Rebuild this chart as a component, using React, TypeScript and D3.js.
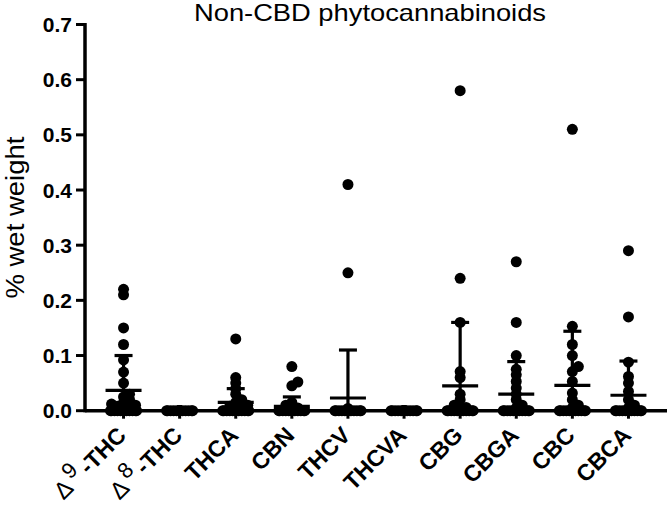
import React from "react";
import * as d3 from "d3";

const categories = ["d9THC", "d8THC", "THCA", "CBN", "THCV", "THCVA", "CBG", "CBGA", "CBC", "CBCA"];
const zeros = (n: number) => Array(n).fill(0);

const d9THC = [...zeros(11), 0.003, 0.005, 0.008, 0.01, 0.012, 0.015, 0.02, 0.025, 0.03, 0.05, 0.07, 0.092, 0.12, 0.15, 0.21, 0.22];
const d8THC = zeros(24);
const THCA = [...zeros(12), 0.003, 0.005, 0.008, 0.01, 0.015, 0.02, 0.03, 0.04, 0.05, 0.06, 0.13];
const CBN = [...zeros(14), 0.003, 0.005, 0.01, 0.015, 0.045, 0.052, 0.08];
const THCV = [...zeros(20), 0.004, 0.25, 0.41];
const THCVA = zeros(24);
const CBG = [...zeros(14), 0.003, 0.006, 0.01, 0.02, 0.03, 0.06, 0.071, 0.16, 0.24, 0.58];
const CBGA = [...zeros(13), 0.005, 0.01, 0.02, 0.03, 0.041, 0.053, 0.065, 0.075, 0.1, 0.16, 0.27];
const CBC = [...zeros(13), 0.005, 0.01, 0.02, 0.032, 0.053, 0.071, 0.08, 0.1, 0.12, 0.153, 0.51];
const CBCA = [...zeros(14), 0.005, 0.01, 0.02, 0.035, 0.05, 0.062, 0.088, 0.17, 0.29];

const groupValues = [d9THC, d8THC, THCA, CBN, THCV, THCVA, CBG, CBGA, CBC, CBCA];
const means = [0.037, 0, 0.015, 0.008, 0.023, 0, 0.045, 0.03, 0.046, 0.028];
const sds = [0.063, 0, 0.025, 0.017, 0.087, 0, 0.115, 0.059, 0.098, 0.062];
const yTicks = [0, 0.1, 0.2, 0.3, 0.4, 0.5, 0.6, 0.7];
const labels = ["9-THC", "8-THC", "THCA", "CBN", "THCV", "THCVA", "CBG", "CBGA", "CBC", "CBCA"];

const W = 668, H = 507;
const FONT = "'Liberation Sans', Arial, Helvetica, sans-serif";
const R = 5.5;

function swarm(vals: number[], y: (v: number) => number) {
  const sorted = [...vals].sort((a, b) => a - b);
  const placed: { dx: number; y: number }[] = [];
  const cands = [0, 6, -6, 12, -12, 3, -3, 9, -9, 13, -13];
  for (const v of sorted) {
    const py = y(v);
    let best = 0, bestD = -1;
    for (const c of cands) {
      let minD = Infinity;
      for (const p of placed) {
        const d = Math.hypot(p.dx - c, p.y - py);
        if (d < minD) minD = d;
      }
      if (minD >= 5) { best = c; bestD = Infinity; break; }
      if (minD > bestD) { bestD = minD; best = c; }
    }
    placed.push({ dx: best, y: py });
  }
  return placed;
}

export default function App() {
  const y = d3.scaleLinear().domain([0, 0.7]).range([410.7, 24.5]);
  const x = d3.scalePoint<string>().domain(categories).range([85, 667]).padding(0.687);
  const axisX = 85;
  const base = y(0);
  return (
    <svg width={W} height={H} style={{ position: "absolute", left: 0, top: 0, background: "#fff" }} fontFamily={FONT}>
      <text x={370} y={21} textAnchor="middle" fontSize={24} textLength={352} lengthAdjust="spacingAndGlyphs" fill="#000">Non-CBD phytocannabinoids</text>
      <text transform={`translate(24,${y(0.35)}) rotate(-90)`} textAnchor="middle" fontSize={26} textLength={162} lengthAdjust="spacingAndGlyphs" fill="#000">% wet weight</text>
      {/* y axis */}
      <line x1={axisX} x2={axisX} y1={y(0.7) - 1.5} y2={base + 1.5} stroke="#000" strokeWidth={3.5} />
      {yTicks.map((t) => (
        <g key={t}>
          <line x1={axisX - 9} x2={axisX} y1={y(t)} y2={y(t)} stroke="#000" strokeWidth={3} />
          <text x={72} y={y(t)} dy="0.36em" textAnchor="end" fontSize={21} fontWeight="bold">{d3.format(".1f")(t)}</text>
        </g>
      ))}
      {/* x axis */}
      <line x1={axisX} x2={667} y1={base} y2={base} stroke="#000" strokeWidth={3.5} />
      {categories.map((c) => {
        const cx = x(c)!;
        return <line key={c} x1={cx} x2={cx} y1={base} y2={base + 8} stroke="#000" strokeWidth={3} />;
      })}
      {/* points */}
      {categories.map((c, i) => {
        const cx = x(c)!;
        const pts = swarm(groupValues[i], y);
        return (
          <g key={c}>
            {pts.map((p, j) => (
              <circle key={j} cx={cx + p.dx} cy={p.y} r={R} fill="#000" />
            ))}
          </g>
        );
      })}
      {/* mean and SD */}
      {categories.map((c, i) => {
        const cx = x(c)!;
        const m = means[i], s = sds[i];
        if (s === 0) return null;
        const lo = Math.max(0, m - s);
        return (
          <g key={c} stroke="#000">
            <line x1={cx - 18} x2={cx + 18} y1={y(m)} y2={y(m)} strokeWidth={3.2} />
            <line x1={cx} x2={cx} y1={y(lo)} y2={y(m + s)} strokeWidth={3.2} />
            <line x1={cx - 9} x2={cx + 9} y1={y(m + s)} y2={y(m + s)} strokeWidth={3.2} />
          </g>
        );
      })}
      {/* x labels */}
      {categories.map((c, i) => {
        const cx = x(c)!;
        const isDelta = i < 2;
        return (
          <text key={c} transform={`translate(${cx + 4},${base + 26}) rotate(-45)`} textAnchor="end" fontSize={23} fontWeight="bold">
            {isDelta ? (
              <>
                <tspan fontWeight="normal" fontSize={24}>∆</tspan>
                <tspan fontWeight="normal" fontSize={22} dx={4} dy={-10}>{labels[i][0]}</tspan>
                <tspan dx={4} dy={10}>{labels[i].slice(1)}</tspan>
              </>
            ) : (
              labels[i]
            )}
          </text>
        );
      })}
    </svg>
  );
}
